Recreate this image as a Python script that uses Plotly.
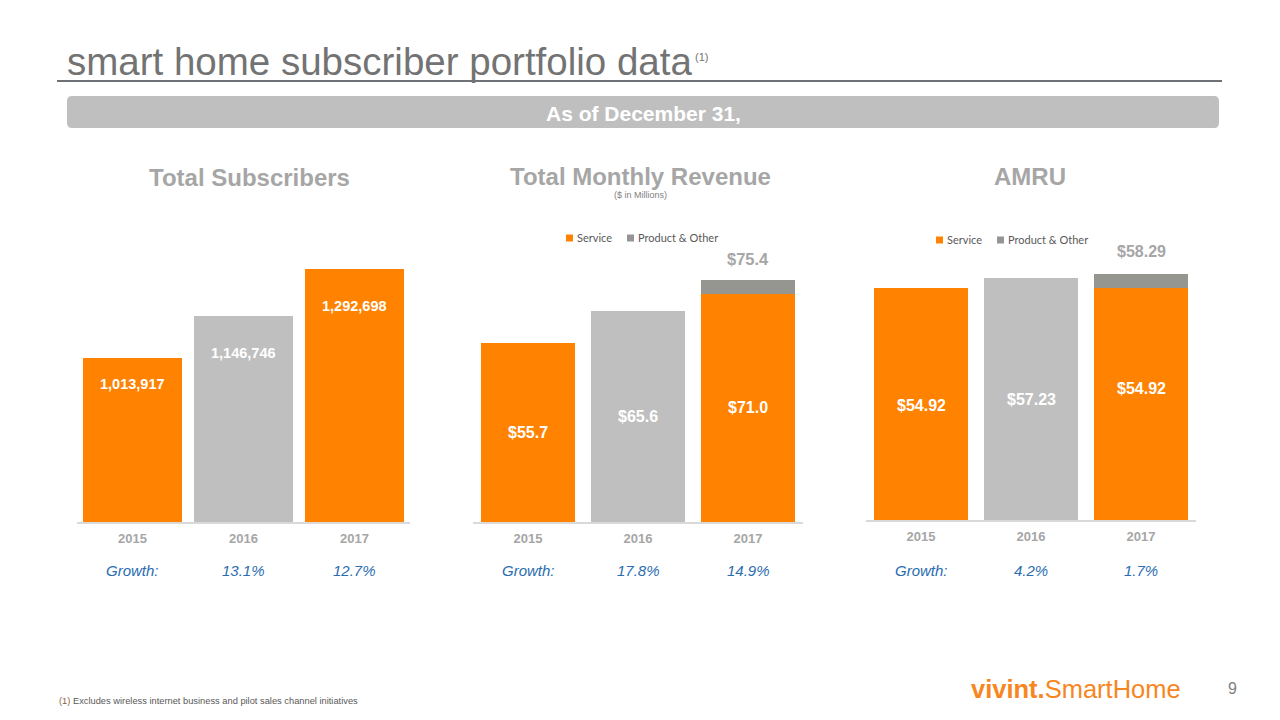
import plotly.graph_objects as go

# ---------------- data ----------------
years = ["2015", "2016", "2017"]
subscribers = [1013917, 1146746, 1292698]
sub_labels = ["1,013,917", "1,146,746", "1,292,698"]
sub_growth = ["13.1%", "12.7%"]

rev_service = [55.7, 65.6, 71.0]
rev_product = [0, 0, 4.4]
rev_labels = ["$55.7", "$65.6", "$71.0"]
rev_total_label = "$75.4"
rev_growth = ["17.8%", "14.9%"]

amru_service = [54.92, 57.23, 54.92]
amru_product = [0, 0, 3.37]
amru_labels = ["$54.92", "$57.23", "$54.92"]
amru_total_label = "$58.29"
amru_growth = ["4.2%", "1.7%"]

# ---------------- style ----------------
W, H = 1280, 720
ORANGE = "#FF8200"
LGRAY = "#BFBFBF"
DGRAY = "#969691"
TITLE_GRAY = "#A6A6A6"
BLUE = "#2A6DB0"
FONT = "Arial, 'Liberation Sans', sans-serif"
bar_colors = [ORANGE, LGRAY, ORANGE]


def px(x):
    return x / W


def py(y):
    return 1 - y / H


fig = go.Figure()

# Chart 1: total subscribers
fig.add_trace(go.Bar(x=years, y=subscribers, marker=dict(color=bar_colors, line_width=0),
                     width=0.89, xaxis="x", yaxis="y", showlegend=False, hoverinfo="skip"))
# Chart 2: revenue
fig.add_trace(go.Bar(x=years, y=rev_service, marker=dict(color=bar_colors, line_width=0),
                     width=0.86, xaxis="x2", yaxis="y2", showlegend=False, name="Service"))
fig.add_trace(go.Bar(x=years, y=rev_product, marker=dict(color=DGRAY, line_width=0),
                     width=0.86, xaxis="x2", yaxis="y2", showlegend=False, name="Product & Other"))
# Chart 3: AMRU
fig.add_trace(go.Bar(x=years, y=amru_service, marker=dict(color=bar_colors, line_width=0),
                     width=0.86, xaxis="x3", yaxis="y3", showlegend=False, name="Service"))
fig.add_trace(go.Bar(x=years, y=amru_product, marker=dict(color=DGRAY, line_width=0),
                     width=0.86, xaxis="x3", yaxis="y3", showlegend=False, name="Product & Other"))

xcommon = dict(type="category", range=[-0.5, len(years) - 0.5], showgrid=False, zeroline=False,
               showline=True, linecolor="#D9D9D9", linewidth=1.5, automargin=False,
               tickfont=dict(family=FONT, size=13, color=TITLE_GRAY, weight="bold"),
               ticks="", ticklabelstandoff=4, fixedrange=True)
ycommon = dict(visible=False, showgrid=False, zeroline=False, fixedrange=True, automargin=False)

top_px = 230
fig.update_layout(
    xaxis=dict(domain=[px(77), px(410)], anchor="y", **xcommon),
    yaxis=dict(domain=[py(522), py(top_px)], range=[500000, 500000 + (522 - top_px) / 3.19e-4],
               anchor="x", **ycommon),
    xaxis2=dict(domain=[px(473), px(803)], anchor="y2", **xcommon),
    yaxis2=dict(domain=[py(522), py(top_px)], range=[0, (522 - top_px) / 3.215], anchor="x2", **ycommon),
    xaxis3=dict(domain=[px(866), px(1196)], anchor="y3", **xcommon),
    yaxis3=dict(domain=[py(520), py(top_px)], range=[0, (520 - top_px) / 4.22], anchor="x3", **ycommon),
)

ann = []


def text(x, y, t, size, color, bold=False, italic=False, xanchor="center", yanchor="middle",
         xref="paper", yref="paper", yshift=0, family=FONT):
    f = dict(family=family, size=size, color=color)
    if bold:
        f["weight"] = "bold"
    if italic:
        f["style"] = "italic"
    ann.append(dict(x=x, y=y, text=t, xref=xref, yref=yref, xanchor=xanchor, yanchor=yanchor,
                    showarrow=False, font=f, yshift=yshift))


# Header
text(px(65), py(61), "smart home subscriber portfolio data", 38.5, "#737373", xanchor="left")
text(px(693), py(57), "(1)", 11, "#737373", xanchor="left")
text(px(643), py(113), "As of December 31,", 21, "white", bold=True)

# Section titles
text(px(249), py(177), "Total Subscribers", 24, TITLE_GRAY, bold=True)
text(px(640), py(176), "Total Monthly Revenue", 24, TITLE_GRAY, bold=True)
text(px(640), py(195), "($ in Millions)", 9, "#7F7F7F")
text(px(1030), py(176), "AMRU", 24, TITLE_GRAY, bold=True)

# Data labels chart 1 (inside, near top); category positions by index
shifts1 = [-26, -37, -37]
for i, (v, lab, s) in enumerate(zip(subscribers, sub_labels, shifts1)):
    text(i, v, lab, 14.5, "white", bold=True, xref="x", yref="y", yshift=s)

# Data labels chart 2 (centered)
for i, (v, lab) in enumerate(zip(rev_service, rev_labels)):
    text(i, v / 2, lab, 16, "white", bold=True, xref="x2", yref="y2", yshift=0)
text(2, rev_service[2] + rev_product[2], rev_total_label, 16.5, TITLE_GRAY, bold=True,
     xref="x2", yref="y2", yshift=21)

# Data labels chart 3
shifts3 = [-1, 0, 16]
for i, (v, lab, s) in enumerate(zip(amru_service, amru_labels, shifts3)):
    text(i, v / 2, lab, 16, "white", bold=True, xref="x3", yref="y3", yshift=s)
text(2, amru_service[2] + amru_product[2], amru_total_label, 16, TITLE_GRAY, bold=True,
     xref="x3", yref="y3", yshift=23)

# Growth rows
for xr, growth in (("x", sub_growth), ("x2", rev_growth), ("x3", amru_growth)):
    text(0, py(570), "Growth:", 15, BLUE, italic=True, xref=xr)
    for i, g in enumerate(growth, start=1):
        text(i, py(570), g, 15, BLUE, italic=True, xref=xr)

# Legends (charts 2 and 3)
LEGFONT = "Lato, 'Open Sans', sans-serif"
shapes = []
for lx, ly in ((566, 238), (936, 240)):
    shapes.append(dict(type="rect", xref="paper", yref="paper", x0=px(lx), x1=px(lx + 7),
                       y0=py(ly + 3.5), y1=py(ly - 3.5), fillcolor=ORANGE, line_width=0))
    text(px(lx + 9), py(ly), "Service", 11, "#595959", xanchor="left", family=LEGFONT)
    shapes.append(dict(type="rect", xref="paper", yref="paper", x0=px(lx + 61), x1=px(lx + 68),
                       y0=py(ly + 3.5), y1=py(ly - 3.5), fillcolor="#959595", line_width=0))
    text(px(lx + 70), py(ly), "Product &amp; Other", 11, "#595959", xanchor="left", family=LEGFONT)

# Footnote, logo, page number
text(px(57), py(701), "<span style='color:#8B5E3C'>(1)</span> Excludes wireless internet business and pilot sales channel initiatives",
     9.3, "#595959", xanchor="left")
text(px(969), py(689), "<b>vivint.</b>SmartHome", 25.5, "#F7861E", xanchor="left")
text(px(1232), py(688), "9", 16, "#7F7F7F")

# Header rule and banner
shapes.append(dict(type="line", xref="paper", yref="paper", x0=px(57), x1=px(1222), y0=py(81), y1=py(81),
                   line=dict(color="#6E7276", width=2)))
shapes.append(dict(type="path", xref="paper", yref="paper",
                   path=f"M {px(72)} {py(96)} L {px(1214)} {py(96)} Q {px(1219)} {py(96)} {px(1219)} {py(101)} "
                        f"L {px(1219)} {py(123)} Q {px(1219)} {py(128)} {px(1214)} {py(128)} "
                        f"L {px(72)} {py(128)} Q {px(67)} {py(128)} {px(67)} {py(123)} "
                        f"L {px(67)} {py(101)} Q {px(67)} {py(96)} {px(72)} {py(96)} Z",
                   fillcolor="#BFBFBF", line_width=0, layer="below"))

fig.update_layout(
    width=W, height=H, margin=dict(l=0, r=0, t=0, b=0, autoexpand=False),
    paper_bgcolor="white", plot_bgcolor="white",
    barmode="stack", annotations=ann, shapes=shapes, showlegend=False,
    font=dict(family=FONT),
)

fig.write_html("out.html", config={"displayModeBar": False},
               post_script="document.body.style.margin='0';")
